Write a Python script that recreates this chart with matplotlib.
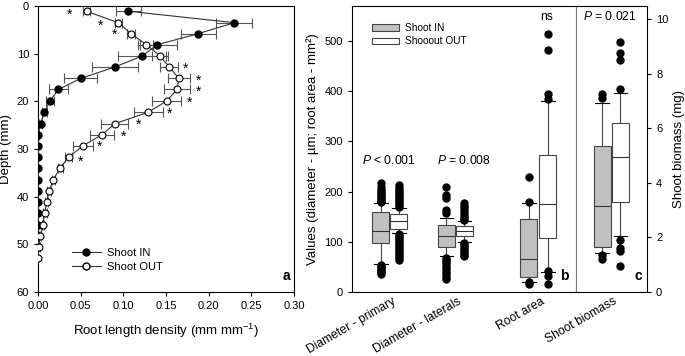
import numpy as np
import matplotlib
matplotlib.use('Agg')
import matplotlib.pyplot as plt
from matplotlib.patches import Patch
from matplotlib.lines import Line2D

plt.rcParams['font.family'] = ['Liberation Sans', 'DejaVu Sans']
plt.rcParams['mathtext.fontset'] = 'custom'
plt.rcParams['mathtext.rm'] = 'Liberation Sans'
plt.rcParams['mathtext.it'] = 'Liberation Sans:italic'
plt.rcParams['font.size'] = 8

# panel a - root length density profiles
depth = [1.1, 3.5, 5.8, 8.1, 10.5, 12.8, 15.2, 17.5, 19.9, 22.3, 24.7, 27.0,
         29.3, 31.7, 34.0, 36.4, 38.8, 41.1, 43.5, 45.9, 48.2, 50.5, 52.9]
rld_in = [0.106, 0.230, 0.188, 0.140, 0.122, 0.090, 0.050, 0.024, 0.014, 0.0074,
          0.003, 0.0005, 0.0, 0.0, 0.0, 0.0, 0.0, 0.0, 0.0, 0.0, 0.0, 0.0]
err_in = [0.015, 0.021, 0.021, 0.023, 0.028, 0.027, 0.019, 0.011, 0.005, 0.003,
          0.002, 0.001, 0.0, 0.0, 0.0, 0.0, 0.0, 0.0, 0.0, 0.0, 0.0, 0.0]
rld_out = [0.057, 0.094, 0.109, 0.127, 0.143, 0.154, 0.165, 0.163, 0.151, 0.129,
           0.090, 0.075, 0.053, 0.036, 0.026, 0.018, 0.013, 0.010, 0.008, 0.0055,
           0.0027, 0.0008, 0.0]
err_out = [0.004, 0.004, 0.005, 0.008, 0.009, 0.0105, 0.013, 0.015, 0.017, 0.017,
           0.016, 0.0145, 0.012, 0.004, 0.003, 0.002, 0.002, 0.002, 0.002, 0.001,
           0.001, 0.001, 0.0]
star_x = [0.037, 0.0735, 0.090, 0.173, 0.188, 0.188, 0.177, 0.154, 0.118, 0.100, 0.072, 0.050]
star_y = [1.8, 4.2, 6.0, 13.1, 15.7, 17.9, 20.3, 22.6, 25.0, 27.4, 29.5, 32.6]

# panel b / c - box summaries (med, q1, q3, whisker lo, whisker hi, outliers)
groups_b = ['Diameter - primary', 'Diameter - laterals', 'Root area']
group_c = 'Shoot biomass'
box_in = [
    (122, 98, 159, 55, 177, [217, 210, 204, 200, 197, 193, 190, 186, 182, 179,
                             54, 51, 48, 45, 42, 39, 36]),
    (111, 90, 133, 71, 148, [209, 194, 187, 164, 157, 67, 63, 59, 55, 50, 45,
                             40, 35, 30, 25]),
    (66, 30, 145, 19, 177, [229, 179, 19, 16]),
]
box_out = [
    (141, 125, 156, 117, 168, [213, 208, 204, 200, 196, 192, 188, 185, 181, 177,
                               173, 170, 115, 111, 107, 103, 99, 95, 91, 87, 83,
                               79, 75, 71, 67, 64]),
    (122, 111, 131, 99, 142, [177, 172, 167, 162, 157, 152, 147, 143, 98, 94, 90,
                              86, 82, 78, 74, 71]),
    (175, 107, 273, 39, 381, [513, 481, 395, 384, 41, 31, 15]),
]
shoot_in = (3.16, 1.65, 5.35, 1.43, 6.92, [7.24, 7.10, 1.37, 1.21])
shoot_out = (4.96, 3.28, 6.21, 2.04, 7.28, [9.15, 8.75, 8.5, 7.43, 1.91, 1.61, 1.49, 0.94])
p_labels = ['$P$ < 0.001', '$P$ = 0.008', 'ns']
p_shoot = '$P$ = 0.021'


def stats(t):
    med, q1, q3, lo, hi, fl = t
    return dict(med=med, q1=q1, q3=q3, whislo=lo, whishi=hi, fliers=fl)


fig = plt.figure(figsize=(6.85, 3.56), dpi=100)
W, H = 685, 356
top, bot = 1 - 6 / H, 1 - 292 / H

axa = fig.add_axes([38 / W, bot, (294 - 38) / W, top - bot])
axb = fig.add_axes([352 / W, bot, (575.7 - 352) / W, top - bot])
axc = fig.add_axes([575.7 / W, bot, (647 - 575.7) / W, top - bot])

# ---- panel a
ekw = dict(elinewidth=0.8, capsize=3.5, capthick=0.8, ecolor='#555555')
axa.errorbar(rld_in, depth[:len(rld_in)], xerr=err_in, color='#333333', lw=0.8,
             marker='o', ms=5, mfc='black', mec='black', zorder=3, **ekw)
axa.errorbar(rld_out, depth, xerr=err_out, color='#333333', lw=0.8,
             marker='o', ms=5, mfc='white', mec='black', mew=0.8, zorder=3, **ekw)
for x, y in zip(star_x, star_y):
    axa.text(x, y, '*', ha='center', va='center', fontsize=10)
axa.set_xlim(0, 0.30)
axa.set_ylim(60, 0)
axa.set_xticks(np.arange(0, 0.31, 0.05))
axa.set_xticklabels(['%.2f' % v for v in np.arange(0, 0.31, 0.05)])
axa.set_yticks(range(0, 61, 10))
axa.tick_params(direction='out', length=3, width=0.8)
axa.set_xlabel('Root length density (mm mm$^{-1}$)', fontsize=9.5, labelpad=8)
axa.set_ylabel('Depth (mm)', fontsize=9.5, labelpad=3)
h_a = [Line2D([], [], color='#333333', lw=0.8, marker='o', ms=5, mfc='black', mec='black'),
       Line2D([], [], color='#333333', lw=0.8, marker='o', ms=5, mfc='white', mec='black')]
axa.legend(h_a, ['Shoot IN', 'Shoot OUT'], loc='lower left', bbox_to_anchor=(0.115, 0.055),
           frameon=False, fontsize=8, handlelength=2.6, borderaxespad=0, labelspacing=0.35,
           handletextpad=0.6)
axa.text(0.985, 0.03, 'a', transform=axa.transAxes, ha='right', va='bottom',
         fontsize=10, fontweight='bold')

# ---- panel b
gray_pos = [381, 446.5, 529]
white_pos = [399, 464.5, 548]
centers_b = [392, 457.5, 541]
bw = 17
gray_props = dict(boxprops=dict(facecolor='#c0c0c0', edgecolor='#444444', lw=0.8),
                  medianprops=dict(color='#333333', lw=0.8),
                  whiskerprops=dict(color='#444444', lw=0.8),
                  capprops=dict(color='black', lw=0.8),
                  flierprops=dict(marker='o', mfc='black', mec='black', ms=5))
white_props = dict(gray_props)
white_props['boxprops'] = dict(facecolor='white', edgecolor='#444444', lw=0.8)

axb.bxp([stats(t) for t in box_in], positions=gray_pos, widths=bw, patch_artist=True,
        capwidths=bw * 0.8, manage_ticks=False, **gray_props)
axb.bxp([stats(t) for t in box_out], positions=white_pos, widths=bw, patch_artist=True,
        capwidths=bw * 0.8, manage_ticks=False, **white_props)
axb.set_xlim(352, 575.7)
axb.set_ylim(0, 569.6)
axb.set_yticks(range(0, 501, 100))
axb.set_xticks(centers_b)
axb.set_xticklabels(groups_b, rotation=30, ha='right', rotation_mode='anchor', fontsize=8.7)
axb.tick_params(axis='y', direction='out', length=3, width=0.8)
axb.tick_params(axis='x', length=0, pad=2.5)
axb.set_ylabel('Values (diameter - µm; root area - mm²)', fontsize=9.5, labelpad=4)
p_y = [261, 261, 547]
p_x = [389, 464, 546.7]
for x, y, s in zip(p_x, p_y, p_labels):
    axb.text(x, y, s, ha='center', va='center', fontsize=8.7)
h_b = [Patch(facecolor='#c0c0c0', edgecolor='#444444', lw=0.8),
       Patch(facecolor='white', edgecolor='#444444', lw=0.8)]
axb.legend(h_b, ['Shoot IN', 'Shooout OUT'], loc='upper left', bbox_to_anchor=(0.07, 0.955),
           frameon=False, fontsize=7.3, handlelength=2.7, handleheight=0.65,
           borderaxespad=0, labelspacing=0.35, handletextpad=0.6)
axb.text(0.966, 0.03, 'b', transform=axb.transAxes, ha='right', va='bottom',
         fontsize=10, fontweight='bold')
axb.spines['right'].set_color('#777777')

# ---- panel c
axc.bxp([stats(shoot_in)], positions=[602], widths=bw, patch_artist=True,
        capwidths=bw * 0.8, manage_ticks=False, **gray_props)
axc.bxp([stats(shoot_out)], positions=[620.3], widths=bw, patch_artist=True,
        capwidths=bw * 0.8, manage_ticks=False, **white_props)
axc.set_xlim(575.7, 647)
axc.set_ylim(0, 10.48)
axc.set_yticks(range(0, 11, 2))
axc.yaxis.tick_right()
axc.yaxis.set_label_position('right')
axc.set_xticks([613])
axc.set_xticklabels([group_c], rotation=30, ha='right', rotation_mode='anchor', fontsize=8.7)
axc.tick_params(axis='y', direction='out', length=3, width=0.8)
axc.tick_params(axis='x', length=0, pad=2.5)
axc.set_ylabel('Shoot biomass (mg)', fontsize=9.5, labelpad=3)
axc.text(610, 10.08, p_shoot, ha='center', va='center', fontsize=8.7)
axc.text(0.874, 0.03, 'c', transform=axc.transAxes, ha='center', va='bottom',
         fontsize=10, fontweight='bold')
axc.spines['left'].set_color('#777777')

for ax in (axa, axb, axc):
    for s in ax.spines.values():
        s.set_linewidth(0.8)

fig.savefig('out.png', dpi=100)
